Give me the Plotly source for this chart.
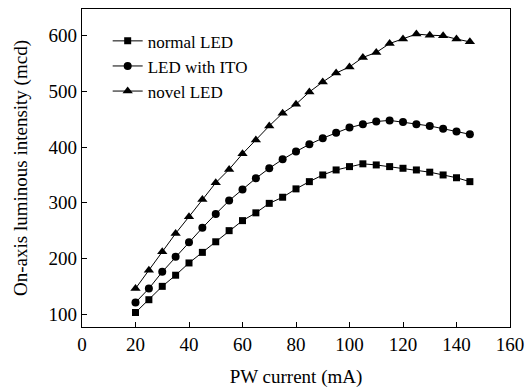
import plotly.graph_objects as go

current_mA = [20, 25, 30, 35, 40, 45, 50, 55, 60, 65, 70, 75, 80, 85, 90, 95,
              100, 105, 110, 115, 120, 125, 130, 135, 140, 145]

normal_led = [103, 126, 150, 170, 192, 211, 230, 250, 268, 282, 299, 310, 325,
              338, 350, 359, 365, 370, 368, 365, 362, 359, 355, 350, 345, 338]

led_with_ito = [121, 146, 176, 203, 229, 255, 280, 304, 324, 344, 362, 378, 392,
                405, 416, 426, 435, 441, 446, 448, 445, 441, 438, 433, 428, 423]

novel_led = [146, 179, 212, 245, 275, 306, 336, 360, 388, 413, 438, 461, 477,
             499, 517, 533, 544, 561, 570, 586, 594, 603, 601, 600, 594, 589]

series_names = ["normal LED", "LED with ITO", "novel LED"]
x_ticks = [0, 20, 40, 60, 80, 100, 120, 140, 160]
y_ticks = [100, 200, 300, 400, 500, 600]

FONT = "Liberation Serif"

fig = go.Figure()
for name, vals, sym, size in [
    (series_names[0], normal_led, "square", 7),
    (series_names[1], led_with_ito, "circle", 8),
    (series_names[2], novel_led, "triangle-up", 9),
]:
    fig.add_trace(go.Scatter(
        x=current_mA, y=vals, name=name, mode="lines+markers",
        line=dict(color="black", width=1),
        marker=dict(symbol=sym, size=size, color="black"),
    ))

axis_common = dict(
    showline=True, linecolor="black", linewidth=1.3, mirror=True,
    ticks="inside", ticklen=5, tickcolor="black", tickwidth=1,
    showgrid=False, zeroline=False, automargin=False,
    ticklabeloverflow="allow",
    tickfont=dict(family=FONT, size=19, color="black"),
)

fig.update_layout(
    width=528, height=388,
    margin=dict(l=82, r=18, t=9, b=61),
    paper_bgcolor="white", plot_bgcolor="white",
    font=dict(family=FONT, color="black", size=19),
    showlegend=True,
    hovermode=False,
    legend=dict(
        x=0.06, y=0.955, xanchor="left", yanchor="top",
        font=dict(family=FONT, size=17, color="black"),
        bgcolor="rgba(0,0,0,0)", tracegroupgap=0, itemwidth=30,
    ),
    xaxis=dict(
        range=[0, 160], tickvals=x_ticks,
        title=dict(text="PW current (mA)", font=dict(family=FONT, size=19)),
        **axis_common,
    ),
    yaxis=dict(
        range=[77, 648], tickvals=y_ticks,
        title=dict(text="On-axis luminous intensity (mcd)", font=dict(family=FONT, size=19)),
        **axis_common,
    ),
)

post = """
document.body.style.margin = '0';
document.body.style.overflow = 'hidden';
var gd = document.getElementById('{plot_id}');
function fixFonts() {
  gd.querySelectorAll('text').forEach(function (t) {
    t.style.fontFamily = "'Liberation Serif', 'Times New Roman', serif";
  });
}
fixFonts();
if (gd.on) { gd.on('plotly_afterplot', fixFonts); }
setTimeout(fixFonts, 30);
"""

fig.write_html("out.html", post_script=post, config={"displayModeBar": False})
